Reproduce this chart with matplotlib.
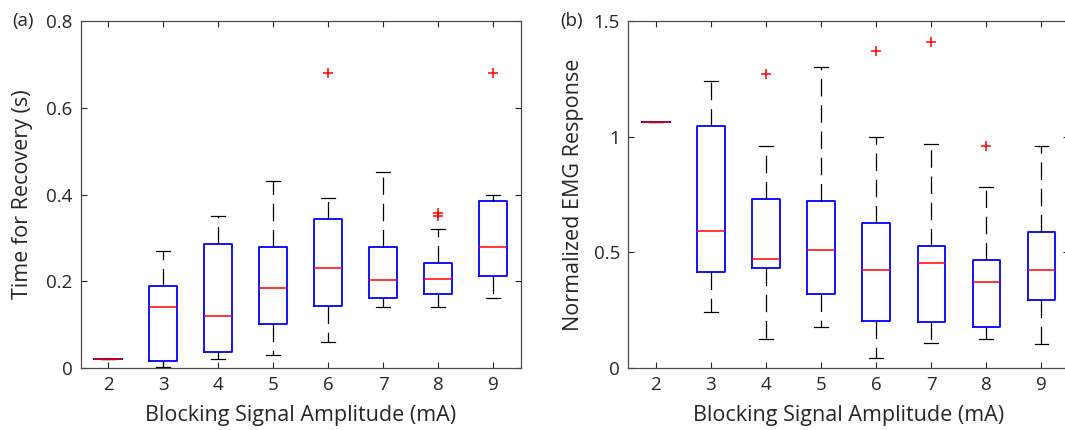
import matplotlib.pyplot as plt

plt.rcParams['font.family'] = ['Open Sans', 'DejaVu Sans']

amplitudes = [2, 3, 4, 5, 6, 7, 8, 9]

# (a) time for recovery (s): whisker low, q1, median, q3, whisker high, outliers
rec_low = [0.021, 0.002, 0.021, 0.031, 0.061, 0.141, 0.141, 0.161]
rec_q1 = [0.021, 0.017, 0.037, 0.101, 0.143, 0.161, 0.171, 0.211]
rec_med = [0.021, 0.141, 0.121, 0.185, 0.231, 0.202, 0.206, 0.280]
rec_q3 = [0.021, 0.188, 0.286, 0.280, 0.343, 0.280, 0.241, 0.385]
rec_high = [0.021, 0.270, 0.351, 0.431, 0.391, 0.451, 0.320, 0.400]
rec_out = [[], [], [], [], [0.681], [], [0.350, 0.358], [0.681]]

# (b) normalized EMG response
emg_low = [1.065, 0.242, 0.127, 0.179, 0.045, 0.110, 0.127, 0.105]
emg_q1 = [1.065, 0.414, 0.433, 0.322, 0.202, 0.198, 0.177, 0.294]
emg_med = [1.065, 0.593, 0.473, 0.512, 0.424, 0.455, 0.371, 0.423]
emg_q3 = [1.065, 1.048, 0.732, 0.722, 0.625, 0.528, 0.465, 0.589]
emg_high = [1.065, 1.240, 0.961, 1.299, 0.999, 0.970, 0.784, 0.961]
emg_out = [[], [], [1.271], [], [1.372], [1.410], [0.961], []]

txt = '#262626'


def make_stats(low, q1, med, q3, high, out):
    return [dict(whislo=a, q1=b, med=c, q3=d, whishi=e, fliers=f)
            for a, b, c, d, e, f in zip(low, q1, med, q3, high, out)]


def draw(ax, stats, ylim, yticks, yticklabels, ylabel, tag, ypad):
    ax.bxp(stats, positions=amplitudes, widths=0.5, showfliers=True,
           boxprops=dict(color='#0000ff', lw=1.3),
           medianprops=dict(color='#ff0000', lw=1.1),
           whiskerprops=dict(color='black', lw=0.9, linestyle=(0, (14, 7))),
           capprops=dict(color='black', lw=0.9),
           flierprops=dict(marker='+', markeredgecolor='#ff0000', markersize=7,
                           markeredgewidth=1.1, linestyle='none'))
    ax.set_xlim(1.5, 9.5)
    ax.set_ylim(*ylim)
    ax.set_xticks(amplitudes)
    ax.set_xticklabels([str(a) for a in amplitudes])
    ax.set_yticks(yticks)
    ax.set_yticklabels(yticklabels)
    ax.tick_params(direction='in', length=4, width=0.8, top=True, right=True,
                   labelsize=13.5, colors=txt, pad=6)
    for s in ax.spines.values():
        s.set_color('#4a4a4a')
        s.set_linewidth(0.9)
    ax.set_xlabel('Blocking Signal Amplitude (mA)', fontsize=15.5, color=txt, labelpad=8)
    ax.set_ylabel(ylabel, fontsize=15.5, color=txt, labelpad=ypad)
    ax.text(-0.155, 1.0, tag, transform=ax.transAxes, fontsize=13.5, color=txt,
            ha='left', va='center')


fig = plt.figure(figsize=(10.65, 4.3), dpi=100)
ax1 = fig.add_axes([80.7 / 1065, 1 - 368 / 430, 440 / 1065, 347 / 430])
ax2 = fig.add_axes([628.3 / 1065, 1 - 368 / 430, 440.7 / 1065, 347 / 430])

draw(ax1, make_stats(rec_low, rec_q1, rec_med, rec_q3, rec_high, rec_out),
     (0, 0.8), [0, 0.2, 0.4, 0.6, 0.8], ['0', '0.2', '0.4', '0.6', '0.8'],
     'Time for Recovery (s)', '(a)', 9)
draw(ax2, make_stats(emg_low, emg_q1, emg_med, emg_q3, emg_high, emg_out),
     (0, 1.5), [0, 0.5, 1, 1.5], ['0', '0.5', '1', '1.5'],
     'Normalized EMG Response', '(b)', 7)

fig.savefig('out.png', dpi=100)
